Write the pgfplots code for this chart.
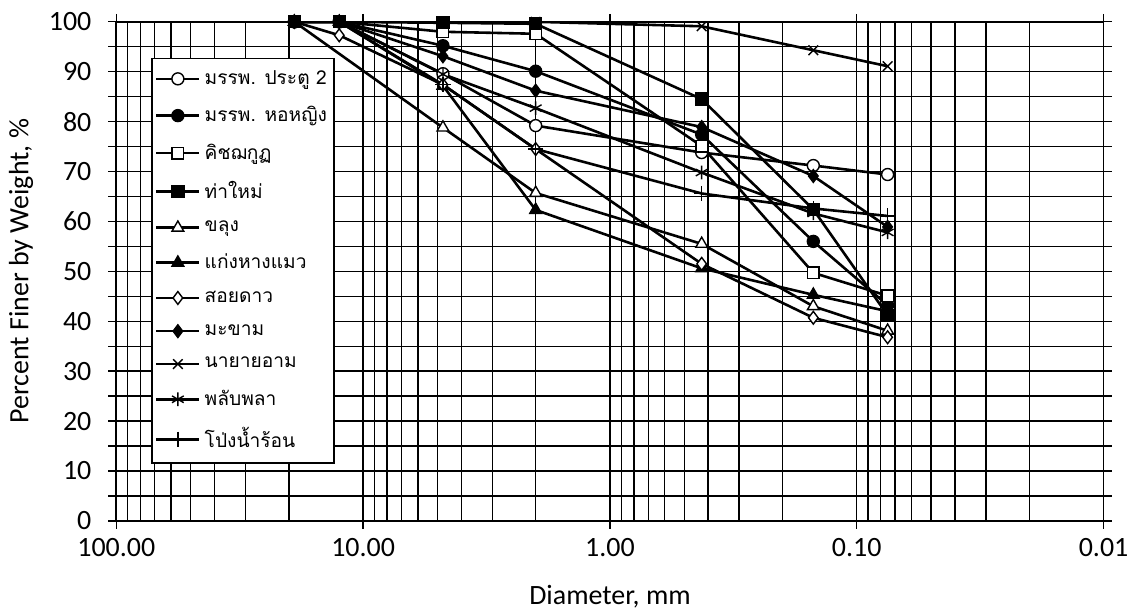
\documentclass[border=0pt]{standalone}
\usepackage{fontspec}
\setmainfont{Carlito}
\newfontfamily\thaifont[Script=Thai]{Loma}
\usepackage{pgfplots}
\pgfplotsset{compat=1.18}

\begin{document}
\begin{tikzpicture}
\begin{axis}[
  scale only axis,
  width=494.5pt, height=250pt,
  xmode=log, x dir=reverse,
  xmin=0.01, xmax=100, ymin=0, ymax=100,
  xtick={100,10,1,0.1,0.01},
  xticklabels={100.00,10.00,1.00,0.10,0.01},
  extra x ticks={0.02,0.03,0.04,0.05,0.06,0.07,0.08,0.09,
                 0.2,0.3,0.4,0.5,0.6,0.7,0.8,0.9,
                 2,3,4,5,6,7,8,9,
                 20,30,40,50,60,70,80,90},
  extra x tick labels={},
  extra x tick style={grid=major, major tick length=0pt},
  ytick={0,5,...,100},
  yticklabels={0,,10,,20,,30,,40,,50,,60,,70,,80,,90,,100},
  tick label style={font=\fontsize{14}{16}\selectfont},
  xticklabel style={yshift=-1pt},
  yticklabel style={xshift=-5pt},
  label style={font=\fontsize{14}{16}\selectfont, inner sep=0.5pt},
  xlabel={Diameter, mm},
  ylabel={Percent Finer by Weight, \%},
  xlabel style={at={(axis description cs:0.5,-0.152)}, anchor=center},
  ylabel style={at={(axis description cs:-0.0965,0.5)}, anchor=center},
  grid=major,
  major grid style={black, line width=0.7pt},
  axis line style={black, line width=0.9pt},
  tick align=outside,
  major tick length=4pt,
  tick style={black, line width=0.7pt},
  legend style={
    at={(0.0354,0.928)}, anchor=north west,
    draw=black, fill=white, line width=0.7pt,
    font=\thaifont\fontsize{9.6}{11}\selectfont,
    row sep=5.6pt, inner xsep=1.5pt, inner ysep=4pt,
  },
  legend cell align=left,
  legend image code/.code={
    \draw[mark repeat=2,mark phase=2,#1]
      plot coordinates {(0cm,0cm) (0.38cm,0cm) (0.76cm,0cm)};
  },
  every axis plot/.append style={black, line width=1.3pt},
]
% sieve sizes: 19, 12.5, 4.75, 2.0, 0.425, 0.15, 0.075 mm

\addplot[mark=*, mark size=3pt, mark options={fill=white, line width=0.7pt}]
  coordinates {(19,100) (12.5,100) (4.75,89.6) (2.0,79.2) (0.425,73.8) (0.15,71.2) (0.075,69.4)};
\addlegendentry{มรรพ. ประตู 2}

\addplot[mark=*, mark size=3pt, mark options={fill=black, line width=0.7pt}]
  coordinates {(19,100) (12.5,100) (4.75,95.2) (2.0,90.1) (0.425,77.4) (0.15,56.0) (0.075,43.2)};
\addlegendentry{มรรพ. หอหญิง}

\addplot[mark=square*, mark size=2.9pt, mark options={fill=white, line width=0.7pt}]
  coordinates {(19,100) (12.5,100) (4.75,98.0) (2.0,97.6) (0.425,75.1) (0.15,49.7) (0.075,45.1)};
\addlegendentry{คิชฌกูฏ}

\addplot[mark=square*, mark size=3pt, mark options={fill=black, line width=0.7pt}]
  coordinates {(19,100) (12.5,100) (4.75,99.8) (2.0,99.6) (0.425,84.5) (0.15,62.4) (0.075,41.2)};
\addlegendentry{ท่าใหม่}

\addplot[mark=triangle*, mark size=3.4pt, mark options={fill=white, line width=0.7pt}]
  coordinates {(19,100) (4.75,78.8) (2.0,65.7) (0.425,55.5) (0.15,43.0) (0.075,38.1)};
\addlegendentry{ขลุง}

\addplot[mark=triangle*, mark size=3.4pt, mark options={fill=black, line width=0.7pt}]
  coordinates {(19,100) (12.5,100) (4.75,87.2) (2.0,62.3) (0.425,50.6) (0.15,45.3) (0.075,42.0)};
\addlegendentry{แก่งหางแมว}

\addplot[mark=diamond*, mark size=3.2pt, mark options={fill=white, line width=0.7pt}]
  coordinates {(19,100) (12.5,97.3) (4.75,87.4) (2.0,74.5) (0.425,51.5) (0.15,40.7) (0.075,36.8)};
\addlegendentry{สอยดาว}

\addplot[mark=diamond*, mark size=3.2pt, mark options={fill=black, line width=0.7pt}]
  coordinates {(19,100) (12.5,100) (4.75,93.1) (2.0,86.2) (0.425,78.9) (0.15,69.1) (0.075,58.9)};
\addlegendentry{มะขาม}

\addplot[mark=x, mark size=3.4pt, mark options={line width=0.7pt}]
  coordinates {(19,100) (12.5,100) (4.75,100) (2.0,100) (0.425,99.1) (0.15,94.3) (0.075,91.1)};
\addlegendentry{นายายอาม}

\addplot[mark=asterisk, mark size=3.4pt, mark options={line width=0.7pt}]
  coordinates {(19,100) (12.5,100) (4.75,89.5) (2.0,82.7) (0.425,69.8) (0.15,61.6) (0.075,57.8)};
\addlegendentry{พลับพลา}

\addplot[mark=+, mark size=3.8pt, mark options={line width=0.7pt}]
  coordinates {(19,100) (12.5,100) (4.75,87.4) (2.0,74.5) (0.425,65.6) (0.15,62.6) (0.075,61.1)};
\addlegendentry{โป่งน้ำร้อน}

\end{axis}
\path ([yshift=3pt]current bounding box.north) coordinate (topmargin);
\path ([xshift=-4pt]current bounding box.west) coordinate (leftmargin);
\end{tikzpicture}
\end{document}
